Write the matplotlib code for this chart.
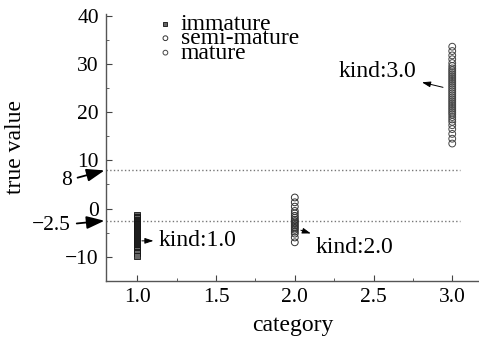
import matplotlib
matplotlib.use('Agg')
import matplotlib.pyplot as plt
import numpy as np
from matplotlib.ticker import MultipleLocator

plt.rcParams['font.family'] = ['Liberation Serif', 'DejaVu Serif']

# data
immature_y = [-1.3, -1.7, -2.0, -2.3, -2.5, -2.7, -2.9, -3.1, -3.3, -3.5, -3.7, -3.9,
              -4.1, -4.3, -4.5, -4.7, -4.9, -5.1, -5.3, -5.5, -5.7, -5.9, -6.1, -6.3,
              -6.5, -6.7, -6.9, -7.1, -7.3, -7.5, -7.7, -7.9, -8.1, -8.3, -8.5, -8.7,
              -9.0, -9.3, -9.8]
semi_y = [2.3, 1.3, 0.4, -0.5, -1.0, -1.5, -1.9, -2.3, -2.6, -2.9, -3.2, -3.5,
          -3.8, -4.1, -4.4, -4.8, -5.2, -6.0, -7.0]
mature_y = [33.6, 32.7, 31.8, 31.0, 30.2, 29.6, 29.1, 28.7, 28.3, 27.9, 27.5, 27.1,
            26.7, 26.3, 25.9, 25.5, 25.1, 24.7, 24.3, 23.9, 23.5, 23.1, 22.7, 22.3,
            21.9, 21.5, 21.1, 20.7, 20.3, 19.9, 19.5, 19.0, 18.5, 18.0, 17.3, 16.5,
            15.5, 14.5, 13.5]
kinds = [1.0, 2.0, 3.0]
ref_levels = [8, -2.5]
ref_labels = ['8', '\u22122.5']

fig = plt.figure(figsize=(4.79, 3.4), dpi=100)
ax = fig.add_axes([0.221, 0.174, 0.779, 0.785])

ax.scatter([kinds[0]] * len(immature_y), immature_y, marker='s', s=16,
           facecolor='#666666', edgecolor='#111111', linewidths=0.6, label='immature', zorder=3)
ax.scatter([kinds[1]] * len(semi_y), semi_y, marker='o', s=24,
           facecolor='none', edgecolor='#333333', linewidths=0.7, label='semi-mature', zorder=3)
ax.scatter([kinds[2]] * len(mature_y), mature_y, marker='o', s=24,
           facecolor='none', edgecolor='#444444', linewidths=0.7, label='mature', zorder=3)

for lv in ref_levels:
    ax.plot([0.8, 3.05], [lv, lv], ls=':', color='#777777', lw=1.0, zorder=1)

ax.set_xlim(0.8, 3.17)
ax.set_ylim(-15, 40.4)
ax.xaxis.set_major_locator(MultipleLocator(0.5))
ax.xaxis.set_minor_locator(MultipleLocator(0.25))
ax.yaxis.set_major_locator(MultipleLocator(10))
ax.yaxis.set_minor_locator(MultipleLocator(5))
ax.xaxis.set_major_formatter(matplotlib.ticker.FormatStrFormatter('%.1f'))
ax.tick_params(which='both', direction='in', colors='#444444', labelcolor='black',
               labelsize=15.5)
ax.tick_params(which='major', length=4, pad=5)
ax.tick_params(which='minor', length=2.5)
for s in ['top', 'right']:
    ax.spines[s].set_visible(False)
for s in ['left', 'bottom']:
    ax.spines[s].set_color('#555555')
    ax.spines[s].set_linewidth(1.0)

ax.set_xlabel('category', fontsize=17, labelpad=6)
ax.set_ylabel('true value', fontsize=17, labelpad=28)

# reference line labels outside the axes
big_arrow = dict(arrowstyle='-|>,head_length=0.7,head_width=0.25',
                 color='black', lw=1.3, shrinkA=2, shrinkB=1)
ax.annotate(ref_labels[0], xy=(0, ref_levels[0]), xycoords=('axes fraction', 'data'),
            xytext=(-0.105, 5.8), textcoords=('axes fraction', 'data'),
            fontsize=15.5, ha='center', va='center', annotation_clip=False,
            arrowprops=big_arrow)
ax.annotate(ref_labels[1], xy=(0, ref_levels[1]), xycoords=('axes fraction', 'data'),
            xytext=(-0.145, -3.6), textcoords=('axes fraction', 'data'),
            fontsize=15.5, ha='center', va='center', annotation_clip=False,
            arrowprops=big_arrow)

# kind annotations
arrow_small = dict(arrowstyle='<|-,head_length=0.3,head_width=0.1', color='black',
                   lw=0.7, shrinkA=2, shrinkB=1)
ax.annotate('kind:1.0', xy=(1.02, -6.7), xytext=(1.385, -6.7), fontsize=17,
            ha='center', va='center', arrowprops=arrow_small)
ax.annotate('kind:2.0', xy=(2.03, -4.4), xytext=(2.378, -8.1), fontsize=17,
            ha='center', va='center', arrowprops=arrow_small)
ax.annotate('kind:3.0', xy=(2.95, 25.1), xytext=(2.526, 28.4), fontsize=17,
            ha='center', va='center', arrowprops=arrow_small)

leg = ax.legend(loc='upper left', bbox_to_anchor=(0.09, 1.055), frameon=False,
                fontsize=17, labelspacing=-0.3, handletextpad=0.15, markerscale=0.7,
                handlelength=1.0, borderpad=0.1)

fig.savefig('out.png', dpi=100)
